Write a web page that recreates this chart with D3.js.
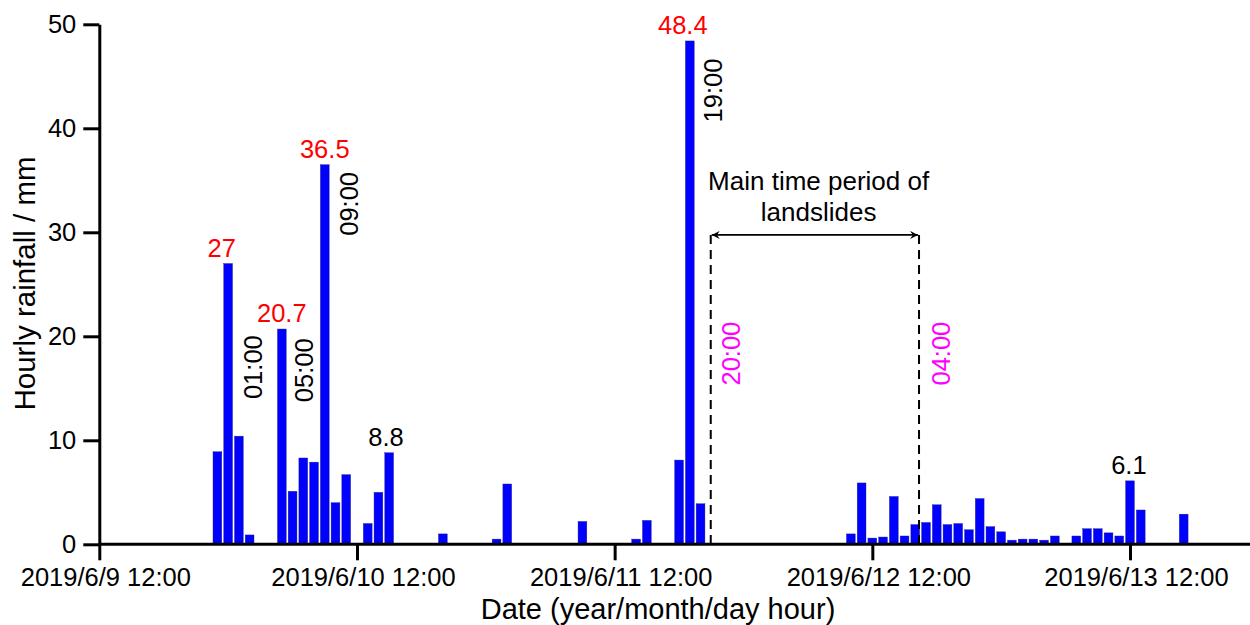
<!DOCTYPE html>
<html>
<head>
<meta charset="utf-8">
<script src="https://cdn.jsdelivr.net/npm/d3@7"></script>
<style>
  body { margin: 0; background: #fff; }
  text { font-family: "Liberation Sans", Arial, sans-serif; }
</style>
</head>
<body>
<div id="chart"></div>
<script>
// hourly rainfall, hours counted from 2019/6/9 12:00
const hours = [11, 12, 13, 14, 17, 18, 19, 20, 21, 22, 23, 24, 25, 26, 27,
  32, 37, 38, 45, 48, 50, 51, 54, 55, 56, 57,
  69, 70, 71, 72, 73, 74, 75, 76, 77, 78, 79, 80, 81, 82, 83, 84, 85, 86, 87,
  88, 89, 90, 91, 92, 93, 94, 95, 96, 97, 100, 101, 102];
const rain = [8.9, 27, 10.4, 0.9, 20.7, 5.1, 8.3, 7.9, 36.5, 4.0, 6.7, 0.1, 2.0, 5.0, 8.8,
  1.0, 0.5, 5.8, 2.2, 0.1, 0.5, 2.3, 8.1, 48.4, 3.9, 0.1,
  0.1, 1.0, 5.9, 0.6, 0.7, 4.6, 0.8, 1.9, 2.1, 3.8, 1.9, 2.0, 1.4, 4.4, 1.7, 1.2, 0.4, 0.5, 0.5,
  0.4, 0.8, 0.1, 0.8, 1.5, 1.5, 1.1, 0.8, 6.1, 3.3, 0.1, 2.9, 0.1];

const yTicks = [0, 10, 20, 30, 40, 50];
const xTickHours = [0, 24, 48, 72, 96];

// peak value labels: [hour, value, text, color]
const peakLabels = [
  [11.4, 27, "27", "#ff0000"],
  [17, 20.7, "20.7", "#ff0000"],
  [21, 36.5, "36.5", "#ff0000"],
  [54.35, 48.4, "48.4", "#ff0000"],
  [26.7, 8.8, "8.8", "#000"],
  [95.9, 6.1, "6.1", "#000"]
];
// vertical time labels: [hour, value at top, text, color]
const timeLabels = [
  [15.12, 20.1, "01:00", "#000"],
  [19.87, 19.8, "05:00", "#000"],
  [24.1, 35.8, "09:00", "#000"],
  [57.98, 46.7, "19:00", "#000"],
  [59.65, 21.4, "20:00", "#ff00ff"],
  [79.2, 21.4, "04:00", "#ff00ff"]
];
// landslide period (hours) and arrow height
const periodStart = 56.95, periodEnd = 76.35, periodLevel = 29.75;

const t0 = new Date(2019, 5, 9, 12);
const hr = h => new Date(t0.getTime() + h * 3600 * 1000);

const width = 1250, height = 625;
const svg = d3.select("#chart").append("svg")
  .attr("width", width)
  .attr("height", height);

const x = d3.scaleTime()
  .domain([t0, hr(96)])
  .range([99.3, 1130]);
const y = d3.scaleLinear()
  .domain([0, 50])
  .range([544.3, 24.3]);

const hourPx = x(hr(1)) - x(t0);
const barW = hourPx * 0.82;
const fmt = d3.timeFormat("%Y/%-m/%-d %H:%M");

// bars
svg.append("g")
  .selectAll("rect")
  .data(hours)
  .enter()
  .append("rect")
  .attr("x", d => x(hr(d)) - barW / 2)
  .attr("y", (d, i) => y(rain[i]))
  .attr("width", barW)
  .attr("height", (d, i) => y(0) - y(rain[i]))
  .attr("fill", "#0000ff")
  .attr("stroke", "#2a2a80")
  .attr("stroke-width", 0.4);

// x axis
const xAxis = svg.append("g")
  .attr("transform", `translate(0,${y(0)})`)
  .call(d3.axisBottom(x)
    .tickValues(xTickHours.map(hr))
    .tickFormat(fmt)
    .tickSize(16)
    .tickPadding(8));
xAxis.select(".domain").remove();
xAxis.append("line")
  .attr("x1", x(t0)).attr("x2", width)
  .attr("stroke", "#000").attr("stroke-width", 3);
xAxis.selectAll(".tick line").attr("stroke-width", 3);
xAxis.selectAll(".tick text")
  .attr("font-size", 25.5)
  .attr("font-family", "Liberation Sans, Arial, sans-serif")
  .attr("fill", "#000")
  .attr("dx", 6);

// y axis
const yAxis = svg.append("g")
  .attr("transform", `translate(${x(t0)},0)`)
  .call(d3.axisLeft(y)
    .tickValues(yTicks)
    .tickSize(16)
    .tickSizeOuter(0)
    .tickPadding(7));
yAxis.select(".domain").attr("stroke-width", 3);
yAxis.selectAll(".tick line").attr("stroke-width", 3);
yAxis.selectAll(".tick text")
  .attr("font-size", 25.5)
  .attr("font-family", "Liberation Sans, Arial, sans-serif")
  .attr("fill", "#000");

// axis titles
svg.append("text")
  .attr("x", 658)
  .attr("y", 619)
  .attr("text-anchor", "middle")
  .attr("font-size", 29)
  .text("Date (year/month/day hour)");
svg.append("text")
  .attr("transform", "translate(35,283.5) rotate(-90)")
  .attr("text-anchor", "middle")
  .attr("font-size", 29.5)
  .text("Hourly rainfall / mm");

// peak labels
svg.append("g")
  .selectAll("text")
  .data(peakLabels)
  .enter()
  .append("text")
  .attr("x", d => x(hr(d[0])))
  .attr("y", d => y(d[1]) - 7)
  .attr("text-anchor", "middle")
  .attr("font-size", 25.5)
  .attr("fill", d => d[3])
  .text(d => d[2]);

// vertical time labels
svg.append("g")
  .selectAll("text")
  .data(timeLabels)
  .enter()
  .append("text")
  .attr("transform", d => `translate(${x(hr(d[0]))},${y(d[1])}) rotate(-90)`)
  .attr("text-anchor", "end")
  .attr("font-size", 25.5)
  .attr("fill", d => d[3])
  .text(d => d[2]);

// landslide period: dashed lines + double arrow
const defs = svg.append("defs");
defs.append("marker")
  .attr("id", "arr")
  .attr("viewBox", "0 0 10 10")
  .attr("refX", 10).attr("refY", 5)
  .attr("markerWidth", 13).attr("markerHeight", 8)
  .attr("markerUnits", "userSpaceOnUse")
  .attr("orient", "auto-start-reverse")
  .append("path")
  .attr("d", "M0,0 L10,5 L0,10 L3.5,5 Z")
  .attr("fill", "#000");

[periodStart, periodEnd].forEach(h => {
  svg.append("line")
    .attr("x1", x(hr(h))).attr("x2", x(hr(h)))
    .attr("y1", y(periodLevel)).attr("y2", y(0))
    .attr("stroke", "#000")
    .attr("stroke-width", 2)
    .attr("stroke-dasharray", "9,6");
});
svg.append("line")
  .attr("x1", x(hr(periodStart)) + 1).attr("x2", x(hr(periodEnd)) - 1)
  .attr("y1", y(periodLevel)).attr("y2", y(periodLevel))
  .attr("stroke", "#000")
  .attr("stroke-width", 1.8)
  .attr("marker-start", "url(#arr)")
  .attr("marker-end", "url(#arr)");

svg.append("text")
  .attr("x", x(hr(67)))
  .attr("y", 190)
  .attr("text-anchor", "middle")
  .attr("font-size", 26)
  .text("Main time period of");
svg.append("text")
  .attr("x", x(hr(67)))
  .attr("y", 221)
  .attr("text-anchor", "middle")
  .attr("font-size", 26)
  .text("landslides");
</script>
</body>
</html>
